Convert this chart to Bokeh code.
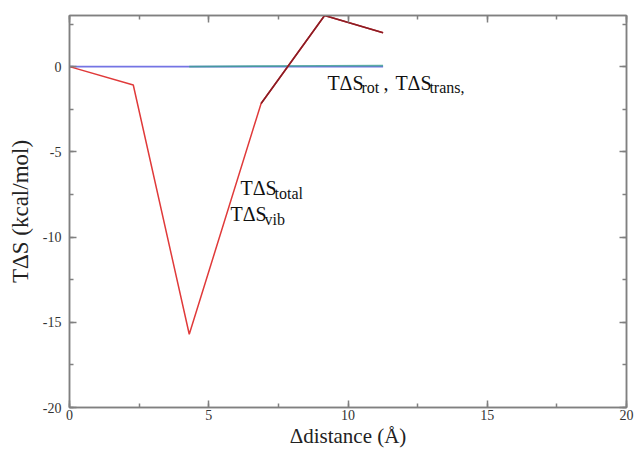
from bokeh.plotting import figure
from bokeh.models import LinearAxis, SingleIntervalTicker, Range1d, Label, PrintfTickFormatter
from bokeh.embed import file_html
from bokeh.resources import INLINE
import math

# ---- data ----
distance = [0, 2.29, 4.3, 6.88, 9.16, 11.26]
ts_total = [0, -1.08, -15.7, -2.16, 3.0, 1.99]
ts_vib = [math.nan, math.nan, math.nan, -2.16, 3.0, 1.99]
ts_rot = [0, 0, 0, 0, 0, 0]
ts_trans = [math.nan, math.nan, 0.0, 0.03, 0.05, 0.06]

x_ticks_major = 5
y_ticks_major = 5

FONT = "Liberation Serif"

p = figure(width=635, height=453, output_backend="svg", toolbar_location=None,
           x_range=Range1d(0, 20), y_range=Range1d(-20, 3),
           min_border_left=69, min_border_right=9, min_border_top=15, min_border_bottom=46)
p.xgrid.visible = False
p.ygrid.visible = False
p.outline_line_color = "#808080"
p.outline_line_width = 1.5

p.line(distance, ts_rot, line_color="#7474e4", line_width=1.6)
p.line(distance, ts_trans, line_color="#3aa090", line_width=1.6, line_alpha=0.8)
p.line(distance, ts_total, line_color="#e03a3a", line_width=1.5)
p.line(distance, ts_vib, line_color="#8a1c24", line_width=1.6)

def style_axis(ax, labels=True):
    ax.axis_line_color = "#808080"
    ax.axis_line_width = 1.5
    ax.major_tick_in = 7
    ax.major_tick_out = 0
    ax.minor_tick_in = 4
    ax.minor_tick_out = 0
    ax.major_tick_line_color = "#808080"
    ax.minor_tick_line_color = "#808080"
    ax.major_tick_line_width = 1.5
    ax.minor_tick_line_width = 1.5
    ax.major_label_text_font = FONT
    ax.major_label_text_font_size = "14px"
    ax.major_label_text_color = "#333333"
    ax.axis_label_text_font = FONT
    ax.axis_label_text_font_style = "normal"
    ax.axis_label_text_color = "#222222"
    if not labels:
        ax.major_label_text_font_size = "0px"
        ax.major_label_text_alpha = 0

p.xaxis.ticker = SingleIntervalTicker(interval=x_ticks_major, num_minor_ticks=2)
p.yaxis.ticker = SingleIntervalTicker(interval=y_ticks_major, num_minor_ticks=2)
p.xaxis.formatter = PrintfTickFormatter(format="%d")
p.yaxis.formatter = PrintfTickFormatter(format="%d")
p.xaxis.axis_label = "Δdistance (Å)"
p.yaxis.axis_label = "TΔS (kcal/mol)"
style_axis(p.xaxis[0])
style_axis(p.yaxis[0])
p.xaxis.axis_label_text_font_size = "21px"
p.yaxis.axis_label_text_font_size = "23px"
p.xaxis.major_label_standoff = 2
p.yaxis.major_label_standoff = 8
p.xaxis.axis_label_standoff = 1
p.yaxis.axis_label_standoff = 7

top = LinearAxis(ticker=SingleIntervalTicker(interval=x_ticks_major, num_minor_ticks=2))
right = LinearAxis(ticker=SingleIntervalTicker(interval=y_ticks_major, num_minor_ticks=2))
style_axis(top, labels=False)
style_axis(right, labels=False)
p.add_layout(top, "above")
p.add_layout(right, "right")

def lab(x, y, t, size, dx=0, dy=0):
    p.add_layout(Label(x=x, y=y, x_offset=dx, y_offset=dy, text=t, text_font=FONT,
                       text_font_size=size, text_color="#111111",
                       text_baseline="alphabetic", text_align="left"))

BIG = "20px"
SMALL = "16px"
W = 34   # rendered width of the main "TΔS" in px
lab(6.14, -7.14, "TΔS", BIG)
lab(6.14, -7.14, "total", SMALL, dx=W, dy=-5)
lab(5.78, -8.67, "TΔS", BIG)
lab(5.78, -8.67, "vib", SMALL, dx=W, dy=-5)
lab(9.26, -0.94, "TΔS", BIG)
lab(9.26, -0.94, "rot", SMALL, dx=W, dy=-5)
lab(9.26, -0.94, ",", BIG, dx=W + 22)
lab(9.26, -0.94, "TΔS", BIG, dx=W + 34)
lab(9.26, -0.94, "trans,", SMALL, dx=2 * W + 34, dy=-5)

open("out.html", "w").write(file_html(p, INLINE))
